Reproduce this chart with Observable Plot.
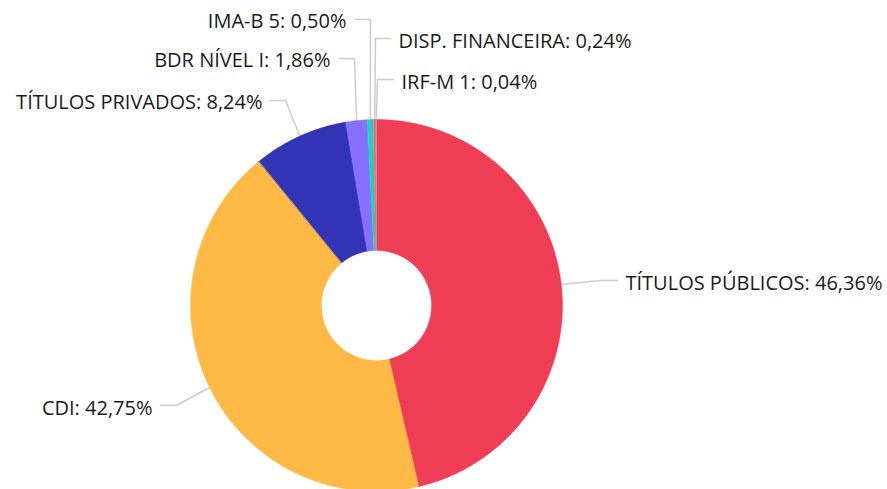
<!DOCTYPE html>
<html>
<head>
<meta charset="utf-8">
<script src="https://cdn.jsdelivr.net/npm/d3@7"></script>
<script src="https://cdn.jsdelivr.net/npm/@observablehq/plot@0.6"></script>
<style>
  html, body { margin: 0; padding: 0; background: #fff; }
  #chart { width: 887px; height: 489px; overflow: hidden; }
  svg { font-family: "Open Sans", sans-serif; }
</style>
</head>
<body>
<div id="chart"></div>
<script>
// ---- data ----
const categories = ["TÍTULOS PÚBLICOS", "CDI", "TÍTULOS PRIVADOS", "BDR NÍVEL I", "IMA-B 5", "DISP. FINANCEIRA", "IRF-M 1"];
const shares = [46.36, 42.75, 8.24, 1.86, 0.50, 0.24, 0.04];
const valueLabels = ["46,36%", "42,75%", "8,24%", "1,86%", "0,50%", "0,24%", "0,04%"];
const colors = ["#EF3D55", "#FFB944", "#3333B6", "#8770FF", "#14D6BF", "#F3677A", "#A0A0A0"];

// ---- layout (pixel geometry) ----
const W = 887, H = 489;
const CX = 376, CY = 305, R = 186, R0 = 55;
// label leader geometry in page pixels: elbow, end, text anchor
const labelLayout = {
  "TÍTULOS PÚBLICOS": {elbow: [600, 280], end: [617, 280], text: [625, 283], anchor: "start"},
  "CDI":              {elbow: [176, 405], end: [160, 405], text: [152, 408], anchor: "end"},
  "TÍTULOS PRIVADOS": {elbow: [285, 100], end: [270, 100], text: [262, 102], anchor: "end"},
  "BDR NÍVEL I":      {elbow: [354, 58],  end: [339, 58],  text: [330, 60],  anchor: "end"},
  "IMA-B 5":          {elbow: [370, 19],  end: [355, 19],  text: [346, 21],  anchor: "end"},
  "DISP. FINANCEIRA": {elbow: [375, 38],  end: [390, 38],  text: [398, 41],  anchor: "start"},
  "IRF-M 1":          {elbow: [377, 79],  end: [393, 79],  text: [401, 82],  anchor: "start"}
};
const px = (p) => ({x: p[0] - CX, y: CY - p[1]});

const rows = categories.map((c, i) => ({key: c, value: shares[i], label: valueLabels[i]}));
const arcs = d3.pie().sort(null).value(d => d.value).startAngle(0).endAngle(2 * Math.PI)(rows);

// polygon outline of each slice in data units (1 unit = 1 px, y up)
const slicePts = [];
for (const a of arcs) {
  const n = Math.max(2, Math.ceil((a.endAngle - a.startAngle) / 0.01));
  for (let k = 0; k <= n; k++) {
    const t = a.startAngle + (a.endAngle - a.startAngle) * k / n;
    slicePts.push({key: a.data.key, x: R * Math.sin(t), y: R * Math.cos(t)});
  }
  for (let k = n; k >= 0; k--) {
    const t = a.startAngle + (a.endAngle - a.startAngle) * k / n;
    slicePts.push({key: a.data.key, x: R0 * Math.sin(t), y: R0 * Math.cos(t)});
  }
}

const leaderPts = [];
const textRows = [];
for (const a of arcs) {
  const L = labelLayout[a.data.key];
  const m = (a.startAngle + a.endAngle) / 2;
  leaderPts.push({key: a.data.key, x: (R - 1) * Math.sin(m), y: (R - 1) * Math.cos(m)});
  leaderPts.push({key: a.data.key, ...px(L.elbow)});
  leaderPts.push({key: a.data.key, ...px(L.end)});
  textRows.push({key: a.data.key, text: `${a.data.key}: ${a.data.label}`, anchor: L.anchor, ...px(L.text)});
}

const chart = Plot.plot({
  width: W,
  height: H,
  margin: 0,
  style: {background: "#fff", fontFamily: "'Open Sans', sans-serif"},
  x: {domain: [-CX, W - CX], axis: null},
  y: {domain: [CY - H, CY], axis: null},
  color: {domain: categories, range: colors},
  marks: [
    Plot.line(leaderPts, {x: "x", y: "y", z: "key", stroke: "#cccccc", strokeWidth: 1.5, curve: "linear"}),
    Plot.line(slicePts, {x: "x", y: "y", z: "key", fill: "key", stroke: "key", strokeWidth: 0.4, curve: "linear-closed"}),
    Plot.text(textRows.filter(d => d.anchor === "start"), {x: "x", y: "y", text: "text", textAnchor: "start", lineAnchor: "middle", fontSize: 20, fill: "#1a1a1a"}),
    Plot.text(textRows.filter(d => d.anchor === "end"), {x: "x", y: "y", text: "text", textAnchor: "end", lineAnchor: "middle", fontSize: 20, fill: "#1a1a1a"})
  ]
});
document.getElementById("chart").appendChild(chart);
</script>
</body>
</html>
